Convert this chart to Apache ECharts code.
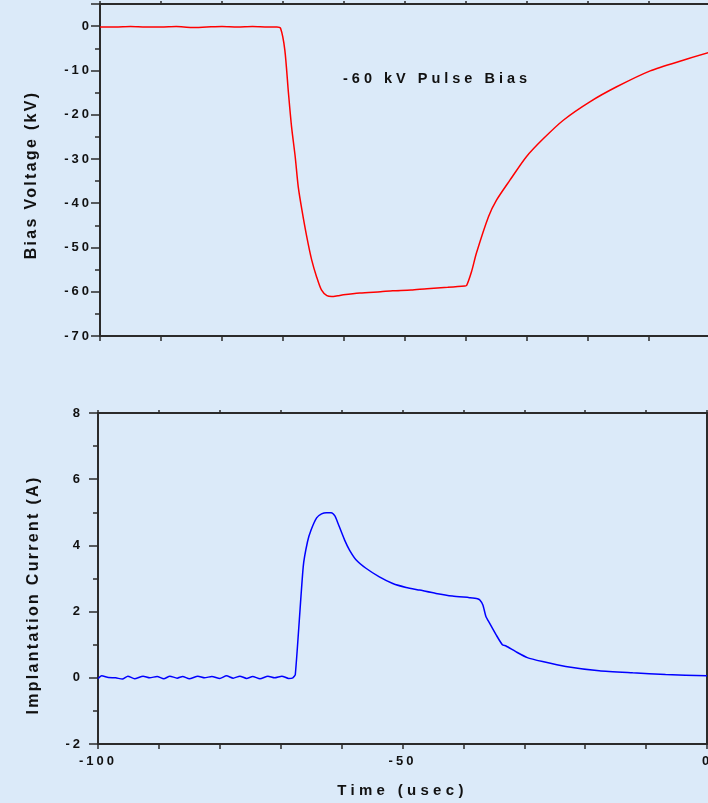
<!DOCTYPE html>
<html>
<head>
<meta charset="utf-8">
<title>Pulse bias and implantation current</title>
<script src="https://cdn.jsdelivr.net/npm/echarts@6/dist/echarts.min.js"></script>
<style>
  html, body { margin: 0; padding: 0; background: #dbeaf9; }
  #chart { width: 708px; height: 803px; }
</style>
</head>
<body>
<div id="chart"></div>
<script>
// bias voltage trace (usec, kV)
const biasTime = [-100, -97.5, -95, -92.5, -90, -87.5, -85, -82.5, -80, -77.5, -75, -72.5, -71, -70.4,
  -69.7, -69.1, -68.6, -68.0, -67.5, -66.9, -66.1, -65.3, -64.5, -63.7, -62.8, -62.0, -61.0, -60.1,
  -57.4, -54.0, -52.0, -49.0, -46.4, -43.0, -40.2, -39.9, -39.1, -38.3, -36.3, -35.0, -32.8, -30.1,
  -27.3, -24.0, -19.7, -15.3, -9.8, -4.4, 0];
const biasVoltage = [-0.2, -0.2, -0.1, -0.2, -0.2, -0.1, -0.3, -0.2, -0.1, -0.2, -0.1, -0.2, -0.2, -0.5,
  -5.4, -15.2, -22.7, -29.5, -36.3, -41.5, -47.6, -52.8, -56.6, -59.6, -60.9, -61.1, -60.9, -60.7,
  -60.3, -60.0, -59.8, -59.6, -59.3, -59.0, -58.7, -58.6, -55.5, -51.3, -43.0, -39.3, -34.8, -29.5,
  -25.4, -21.2, -17.1, -13.7, -10.1, -7.7, -5.9];

// implantation current trace (usec, A)
const currentTime = [-100, -99.4, -98.3, -97.1, -96.0, -95.1, -94.0, -92.6, -91.5, -90.3, -89.2, -88.2,
  -87.0, -86.1, -85.0, -83.6, -82.5, -81.3, -80.0, -78.9, -77.8, -76.7, -75.6, -74.6, -73.4, -72.1,
  -71.0, -69.8, -68.7, -68.0, -67.6, -66.3, -65.6, -65.0, -64.1, -63.3, -62.5, -61.7,
  -61.1, -60.6, -59.5, -58.7, -57.6, -56.0, -53.8, -51.6, -49.4, -47.2, -44.5, -41.8, -39.0, -37.7,
  -37.3, -36.8, -36.3, -35.7, -34.6, -33.6, -33.0, -31.4, -29.5, -27.0, -23.2, -17.7, -12.2, -6.8, 0];
const currentAmps = [-0.03, 0.06, 0.01, 0.0, -0.04, 0.05, -0.03, 0.05, 0.0, 0.04, -0.03, 0.05,
  -0.01, 0.04, -0.03, 0.05, 0.0, 0.04, -0.02, 0.06, -0.01, 0.05, -0.02, 0.04, -0.03, 0.05,
  0.0, 0.05, -0.02, 0.0, 0.1, 3.36, 4.11, 4.47, 4.83, 4.95, 4.99, 4.99,
  4.89, 4.67, 4.16, 3.86, 3.56, 3.31, 3.05, 2.85, 2.73, 2.65, 2.55, 2.47, 2.42, 2.39,
  2.35, 2.2, 1.85, 1.65, 1.29, 1.0, 0.96, 0.79, 0.61, 0.49, 0.34, 0.21, 0.15, 0.10, 0.06];

const timeLabels = [-100, -50, 0];

// the original plot spreads its letters out; emulate with canvas letterSpacing per font size
const spacingBySize = { '13': 3, '14.5': 4, '15': 4.3, '16': 2.3 };
const baseFillText = CanvasRenderingContext2D.prototype.fillText;
CanvasRenderingContext2D.prototype.fillText = function (text, x, y, maxWidth) {
  const m = /(\d+(?:\.\d+)?)px/.exec(this.font);
  this.letterSpacing = ((m && spacingBySize[String(+m[1])]) || 0) + 'px';
  return maxWidth === undefined
    ? baseFillText.call(this, text, x, y)
    : baseFillText.call(this, text, x, y, maxWidth);
};

const ink = '#111';
const frame = '#2b2b2b';
const fontFamily = '"Liberation Sans", Arial, sans-serif';

const chart = echarts.init(document.getElementById('chart'));

const frameAxis = (extra) => Object.assign({
  type: 'value',
  axisLine: { show: true, onZero: false, lineStyle: { color: frame, width: 2 } },
  axisTick: { show: true, inside: false, length: 5, lineStyle: { color: frame, width: 1.5 } },
  axisLabel: { show: false },
  splitLine: { show: false },
}, extra);

const timeAxis = (gridIndex, position, tickLength, extra) => frameAxis(Object.assign({
  gridIndex,
  position,
  min: -100,
  max: 0,
  interval: 10,
  axisTick: { show: true, length: tickLength, lineStyle: { color: frame, width: 1.5 } },
}, extra));

// voltage axis runs -70..5 over 332px; the 5 kV minor ticks live on a grid covering -70..0 only
const voltageTop = 4;
const voltageHeight = 332;
const zeroOffset = voltageHeight * 5 / 75;

const option = {
  backgroundColor: '#dbeaf9',
  animation: false,
  grid: [
    { left: 100, top: voltageTop, width: 610, height: voltageHeight, containLabel: false, outerBoundsMode: 'none' },
    { left: 98, top: 413, width: 609, height: 331, containLabel: false, outerBoundsMode: 'none' },
    { left: 100, top: voltageTop + zeroOffset, width: 610, height: voltageHeight - zeroOffset, containLabel: false, outerBoundsMode: 'none' },
  ],
  xAxis: [
    timeAxis(0, 'bottom', 5),
    timeAxis(0, 'top', 3),
    timeAxis(1, 'bottom', 5, {
      axisLabel: {
        show: true,
        margin: 11,
        color: ink,
        fontFamily,
        fontWeight: 'bold',
        fontSize: 13,
        formatter: (v) => (timeLabels.includes(v) ? String(v) : ''),
      },
      name: 'Time (usec)',
      nameLocation: 'middle',
      nameGap: 39,
      nameTextStyle: { color: ink, fontFamily, fontWeight: 'bold', fontSize: 15 },
    }),
    timeAxis(1, 'top', 3),
    { type: 'value', gridIndex: 2, min: -100, max: 0, show: false },
  ],
  yAxis: [
    frameAxis({
      gridIndex: 0,
      position: 'left',
      min: -70,
      max: 5,
      interval: 10,
      axisTick: { show: true, length: 9, lineStyle: { color: frame, width: 1.5 } },
      axisLabel: {
        show: true,
        margin: 8,
        color: ink,
        fontFamily,
        fontWeight: 'bold',
        fontSize: 13,
        formatter: (v) => (v > 0 ? '' : String(v)),
      },
      name: 'Bias Voltage (kV)',
      nameLocation: 'middle',
      nameGap: 60,
      nameTextStyle: { color: ink, fontFamily, fontWeight: 'bold', fontSize: 16, padding: [0, 10, 0, 0] },
    }),
    frameAxis({
      gridIndex: 1,
      position: 'left',
      min: -2,
      max: 8,
      interval: 2,
      axisTick: { show: true, length: 9, lineStyle: { color: frame, width: 1.5 } },
      minorTick: { show: true, splitNumber: 2, length: 5, lineStyle: { color: frame, width: 1.5 } },
      axisLabel: {
        show: true,
        margin: 15,
        color: ink,
        fontFamily,
        fontWeight: 'bold',
        fontSize: 13,
      },
      name: 'Implantation Current (A)',
      nameLocation: 'middle',
      nameGap: 56,
      nameTextStyle: { color: ink, fontFamily, fontWeight: 'bold', fontSize: 16, padding: [0, 33, 0, 0] },
    }),
    frameAxis({
      gridIndex: 1,
      position: 'right',
      min: -2,
      max: 8,
      axisTick: { show: false },
    }),
    frameAxis({
      gridIndex: 2,
      position: 'left',
      min: -70,
      max: 0,
      interval: 10,
      axisLine: { show: false, onZero: false },
      axisTick: { show: false },
      minorTick: { show: true, splitNumber: 2, length: 5, lineStyle: { color: frame, width: 1.5 } },
    }),
  ],
  graphic: [
    {
      type: 'text',
      left: 343,
      top: 71,
      style: {
        text: '-60 kV Pulse Bias',
        fill: ink,
        font: `bold 14.5px ${fontFamily}`,
      },
    },
  ],
  series: [
    {
      name: 'Bias Voltage',
      type: 'line',
      xAxisIndex: 0,
      yAxisIndex: 0,
      data: biasTime.map((t, i) => [t, biasVoltage[i]]),
      showSymbol: false,
      smooth: 0.25,
      lineStyle: { color: '#ff0000', width: 1.5 },
    },
    {
      name: 'Implantation Current',
      type: 'line',
      xAxisIndex: 2,
      yAxisIndex: 1,
      data: currentTime.map((t, i) => [t, currentAmps[i]]),
      showSymbol: false,
      smooth: 0.2,
      lineStyle: { color: '#0000ff', width: 1.5 },
    },
  ],
};

chart.setOption(option);
</script>
</body>
</html>
